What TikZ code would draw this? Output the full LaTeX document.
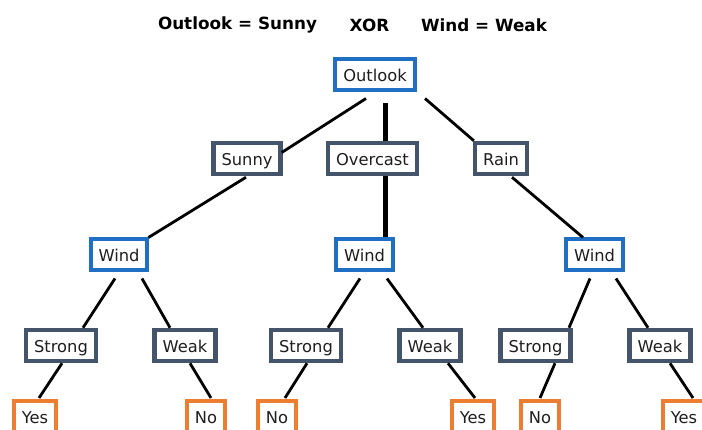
\documentclass[tikz,border=0pt]{standalone}
\usepackage{fontspec}
\setmainfont{DejaVu Sans}
\usetikzlibrary{calc}
\definecolor{attrblue}{HTML}{1F6FC5}
\definecolor{valgrey}{HTML}{44546A}
\definecolor{leaforange}{HTML}{ED7D31}
\definecolor{ink}{HTML}{1E1E1E}
\tikzset{
  box/.style={draw, fill=white, rectangle, minimum height=31pt, inner xsep=8pt,
    inner ysep=0pt, text height=13.5pt, text depth=0pt, text=ink,
    font=\fontsize{16.3}{18}\selectfont, anchor=center},
  attr/.style={box, draw=attrblue, line width=4pt},
  val/.style={box, draw=valgrey, line width=4.5pt},
  leaf/.style={box, draw=leaforange, line width=4pt},
  edge/.style={draw=black, line width=2.8pt},
  thickedge/.style={draw=black, line width=5pt},
  title/.style={font=\fontsize{16.8}{19}\selectfont\bfseries, text=black, inner sep=0pt}
}
\begin{document}
\begin{tikzpicture}[x=1pt,y=-1pt]
  \useasboundingbox (0,0) rectangle (702,430);
  \fill[white] (0,0) rectangle (702,430);

  % heading
  \node[title] (t1) at (237.5,25) {Outlook = Sunny};
  \node[title] (t2) at (369.5,25) {XOR};
  \node[title] (t3) at (484,25) {Wind = Weak};

  % root and first split
  \node[attr] (Outlook) at (375,75) {Outlook};
  \node[val] (Sunny) at (247,158.5) {Sunny};
  \node[val] (Overcast) at (372.5,158.5) {Overcast};
  \node[val] (Rain) at (501,158.5) {Rain};

  % second split
  \node[attr] (WindL) at (119,255) {Wind};
  \node[attr] (WindM) at (364.5,255) {Wind};
  \node[attr] (WindR) at (594.5,255) {Wind};

  \node[val] (StrongL) at (61,345.5) {Strong};
  \node[val] (WeakL) at (185,345.5) {Weak};
  \node[val] (StrongM) at (306,345.5) {Strong};
  \node[val] (WeakM) at (430,345.5) {Weak};
  \node[val] (StrongR) at (535.5,345.5) {Strong};
  \node[val] (WeakR) at (660,345.5) {Weak};

  % leaves
  \node[leaf] (YesL) at (35,416.5) {Yes};
  \node[leaf] (NoL) at (206,416.5) {No};
  \node[leaf] (NoM) at (277,416.5) {No};
  \node[leaf] (YesM) at (473,416.5) {Yes};
  \node[leaf] (NoR) at (540,416.5) {No};
  \node[leaf] (YesR) at (684,416.5) {Yes};

  % connectors
  \draw[edge] ($(Outlook.south)+(-9,6)$) -- ($(Sunny.east)+(-1,-6)$);
  \draw[thickedge] ($(Outlook.south)+(10,11)$) -- ($(Overcast.north)+(12.5,0)$);
  \draw[edge] ($(Outlook.south)+(50,6)$) -- ($(Rain.north west)+(1,0)$);

  \draw[edge] ($(Sunny.south)+(-1,1)$) -- ($(WindL.north east)+(-1,0)$);
  \draw[thickedge] ($(Overcast.south)+(12.5,0)$) -- ($(WindM.north)+(20.5,0)$);
  \draw[edge] ($(Rain.south)+(11,1)$) -- ($(WindR.north)+(-11.5,0)$);

  \draw[edge] ($(WindL.south)+(-4,6)$) -- ($(StrongL.north)+(22,0)$);
  \draw[edge] ($(WindL.south)+(23,6)$) -- ($(WeakL.north)+(-15,0)$);
  \draw[edge] ($(StrongL.south)+(1,0)$) -- ($(YesL.north)+(4,-1)$);
  \draw[edge] ($(WeakL.south)+(5,0)$) -- ($(NoL.north)+(5,-1)$);

  \draw[edge] ($(WindM.south)+(-4.5,6)$) -- ($(StrongM.north)+(22,0)$);
  \draw[edge] ($(WindM.south)+(22.5,6)$) -- ($(WeakM.north)+(-7,0)$);
  \draw[edge] ($(StrongM.south)+(1,0)$) -- ($(NoM.north)+(8,-1)$);
  \draw[edge] ($(WeakM.south)+(18,0)$) -- ($(YesM.north)+(2,-1)$);

  \draw[edge] ($(WindR.south)+(-4.5,6)$) -- ($(StrongR.north)+(33.5,0)$);
  \draw[edge] ($(WindR.south)+(21.5,6)$) -- ($(WeakR.north)+(-12,0)$);
  \draw[edge] ($(StrongR.south)+(19.5,0)$) -- ($(NoR.north)+(0,-1)$);
  \draw[edge] ($(WeakR.south)+(10,0)$) -- ($(YesR.north)+(9,-1)$);
\end{tikzpicture}
\end{document}
